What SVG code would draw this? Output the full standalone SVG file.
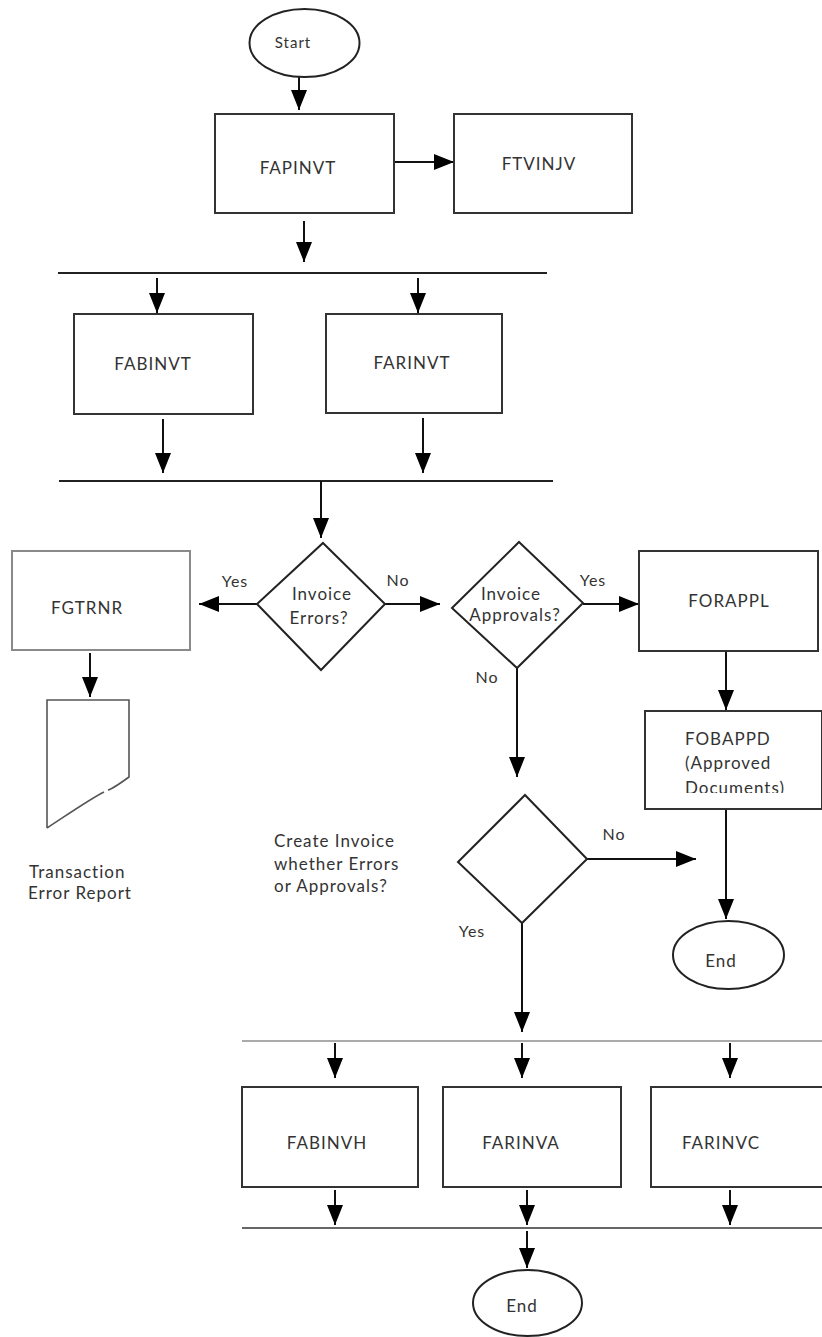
<svg xmlns="http://www.w3.org/2000/svg" width="822" height="1337" viewBox="0 0 822 1337">
<defs>
<marker id="ah" markerUnits="userSpaceOnUse" markerWidth="20" markerHeight="16" refX="20" refY="8" orient="auto">
<path d="M0,0 L20,8 L0,16 z" fill="#000"/>
</marker>
<clipPath id="clipDoc"><rect x="640" y="700" width="182" height="93"/></clipPath>
</defs>
<style>
text{font-family:Lato,"Liberation Sans",sans-serif;fill:#333;font-size:17px;letter-spacing:1px}
.c{text-anchor:middle}
.lbl{font-size:16px}
.box{fill:#fff;stroke:#333;stroke-width:2}
.gbox{fill:#fff;stroke:#8a8a8a;stroke-width:2}
.dia{fill:#fff;stroke:#222;stroke-width:2;stroke-linejoin:miter}
.ell{fill:#fff;stroke:#222;stroke-width:2}
.arr{stroke:#111;stroke-width:2;fill:none;marker-end:url(#ah)}
.bar{stroke:#222;stroke-width:2}
.bar3{stroke:#aaa;stroke-width:2}
.bar4{stroke:#666;stroke-width:2}
</style>
<g id="connectors">
<line class="arr" x1="299" y1="77" x2="299" y2="110"/>
<line class="arr" x1="394" y1="162" x2="454" y2="162"/>
<line class="arr" x1="304" y1="221" x2="304" y2="262"/>
<line class="bar" x1="58" y1="273" x2="547" y2="273"/>
<line class="arr" x1="157" y1="278" x2="157" y2="313"/>
<line class="arr" x1="418" y1="278" x2="418" y2="313"/>
<line class="arr" x1="163" y1="419" x2="163" y2="473"/>
<line class="arr" x1="423" y1="418" x2="423" y2="473"/>
<line class="bar" x1="59" y1="481" x2="553" y2="481"/>
<line class="arr" x1="321" y1="481" x2="321" y2="538"/>
<line class="arr" x1="257" y1="604" x2="199" y2="604"/>
<line class="arr" x1="385" y1="604" x2="440" y2="604"/>
<line class="arr" x1="90" y1="653" x2="90" y2="697"/>
<line class="arr" x1="583" y1="604" x2="639" y2="604"/>
<line class="arr" x1="726" y1="651" x2="726" y2="710"/>
<line class="arr" x1="517" y1="668" x2="517" y2="777"/>
<line class="arr" x1="587" y1="859" x2="696" y2="859"/>
<line class="arr" x1="726" y1="809" x2="726" y2="919"/>
<line class="arr" x1="522" y1="923" x2="522" y2="1032"/>
<line class="bar3" x1="242" y1="1041" x2="822" y2="1041"/>
<line class="arr" x1="335" y1="1043" x2="335" y2="1078"/>
<line class="arr" x1="522" y1="1043" x2="522" y2="1078"/>
<line class="arr" x1="730" y1="1043" x2="730" y2="1078"/>
<line class="arr" x1="335" y1="1190" x2="335" y2="1225"/>
<line class="arr" x1="527" y1="1190" x2="527" y2="1225"/>
<line class="arr" x1="730" y1="1190" x2="730" y2="1225"/>
<line class="bar4" x1="242" y1="1228" x2="822" y2="1228"/>
<line class="arr" x1="527" y1="1231" x2="527" y2="1268"/>
</g>
<g id="start">
<ellipse class="ell" cx="304.5" cy="43" rx="55" ry="34"/>
<text class="c" x="293" y="48" style="font-size:15px">Start</text>
</g>
<g id="fapinvt">
<rect class="box" x="215" y="114" width="179" height="99"/>
<text class="c" x="298" y="174">FAPINVT</text>
</g>
<g id="ftvinjv">
<rect class="box" x="454" y="114" width="178" height="99"/>
<text class="c" x="539" y="170">FTVINJV</text>
</g>
<g id="fabinvt">
<rect class="box" x="74" y="314" width="179" height="100"/>
<text class="c" x="153" y="370">FABINVT</text>
</g>
<g id="farinvt">
<rect class="box" x="326" y="314" width="176" height="99"/>
<text class="c" x="412" y="369">FARINVT</text>
</g>
<g id="invoice-errors">
<polygon class="dia" points="323,543 385,604 321,670 257,604"/>
<text class="c" x="322" y="600">Invoice</text>
<text class="c" x="319" y="624">Errors?</text>
<text class="c lbl" x="235" y="587">Yes</text>
<text class="c lbl" x="398" y="586">No</text>
</g>
<g id="fgtrnr">
<rect class="gbox" x="12" y="551" width="178" height="99"/>
<text class="c" x="87" y="614">FGTRNR</text>
</g>
<g id="error-report">
<path d="M47,828 V700 H129 V777 C118,785 112,789 108,790 M104,792 C90,799 70,813 47,828" fill="none" stroke="#555" stroke-width="1.6"/>
<text x="29" y="878">Transaction</text>
<text x="28" y="899">Error Report</text>
</g>
<g id="invoice-approvals">
<polygon class="dia" points="519,542 583,603 517,668 452,608"/>
<text class="c" x="511" y="600">Invoice</text>
<text class="c" x="515" y="621">Approvals?</text>
<text class="c lbl" x="593" y="586">Yes</text>
<text class="c lbl" x="487" y="683">No</text>
</g>
<g id="forappl">
<rect class="box" x="639" y="551" width="179" height="100"/>
<text class="c" x="729" y="607">FORAPPL</text>
</g>
<g id="fobappd">
<rect class="box" x="645" y="711" width="177" height="98"/>
<text x="685" y="745">FOBAPPD</text>
<text x="685" y="769">(Approved</text>
<text x="685" y="794" clip-path="url(#clipDoc)">Documents)</text>
</g>
<g id="create-invoice">
<polygon class="dia" points="525,795 587,859 522,923 458,862"/>
<text x="274" y="847">Create Invoice</text>
<text x="274" y="870">whether Errors</text>
<text x="274" y="892">or Approvals?</text>
<text class="c lbl" x="614" y="840">No</text>
<text class="c lbl" x="472" y="937">Yes</text>
</g>
<g id="end1">
<ellipse class="ell" cx="728.5" cy="955" rx="55.5" ry="34"/>
<text class="c" x="721" y="967">End</text>
</g>
<g id="fabinvh">
<rect class="box" x="242" y="1087" width="176" height="100"/>
<text class="c" x="327" y="1149">FABINVH</text>
</g>
<g id="farinva">
<rect class="box" x="443" y="1087" width="178" height="100"/>
<text class="c" x="521" y="1149">FARINVA</text>
</g>
<g id="farinvc">
<rect class="box" x="651" y="1087" width="180" height="100"/>
<text class="c" x="721" y="1149">FARINVC</text>
</g>
<g id="end2">
<ellipse class="ell" cx="527.5" cy="1303" rx="54.5" ry="33"/>
<text class="c" x="522" y="1312">End</text>
</g>
</svg>
